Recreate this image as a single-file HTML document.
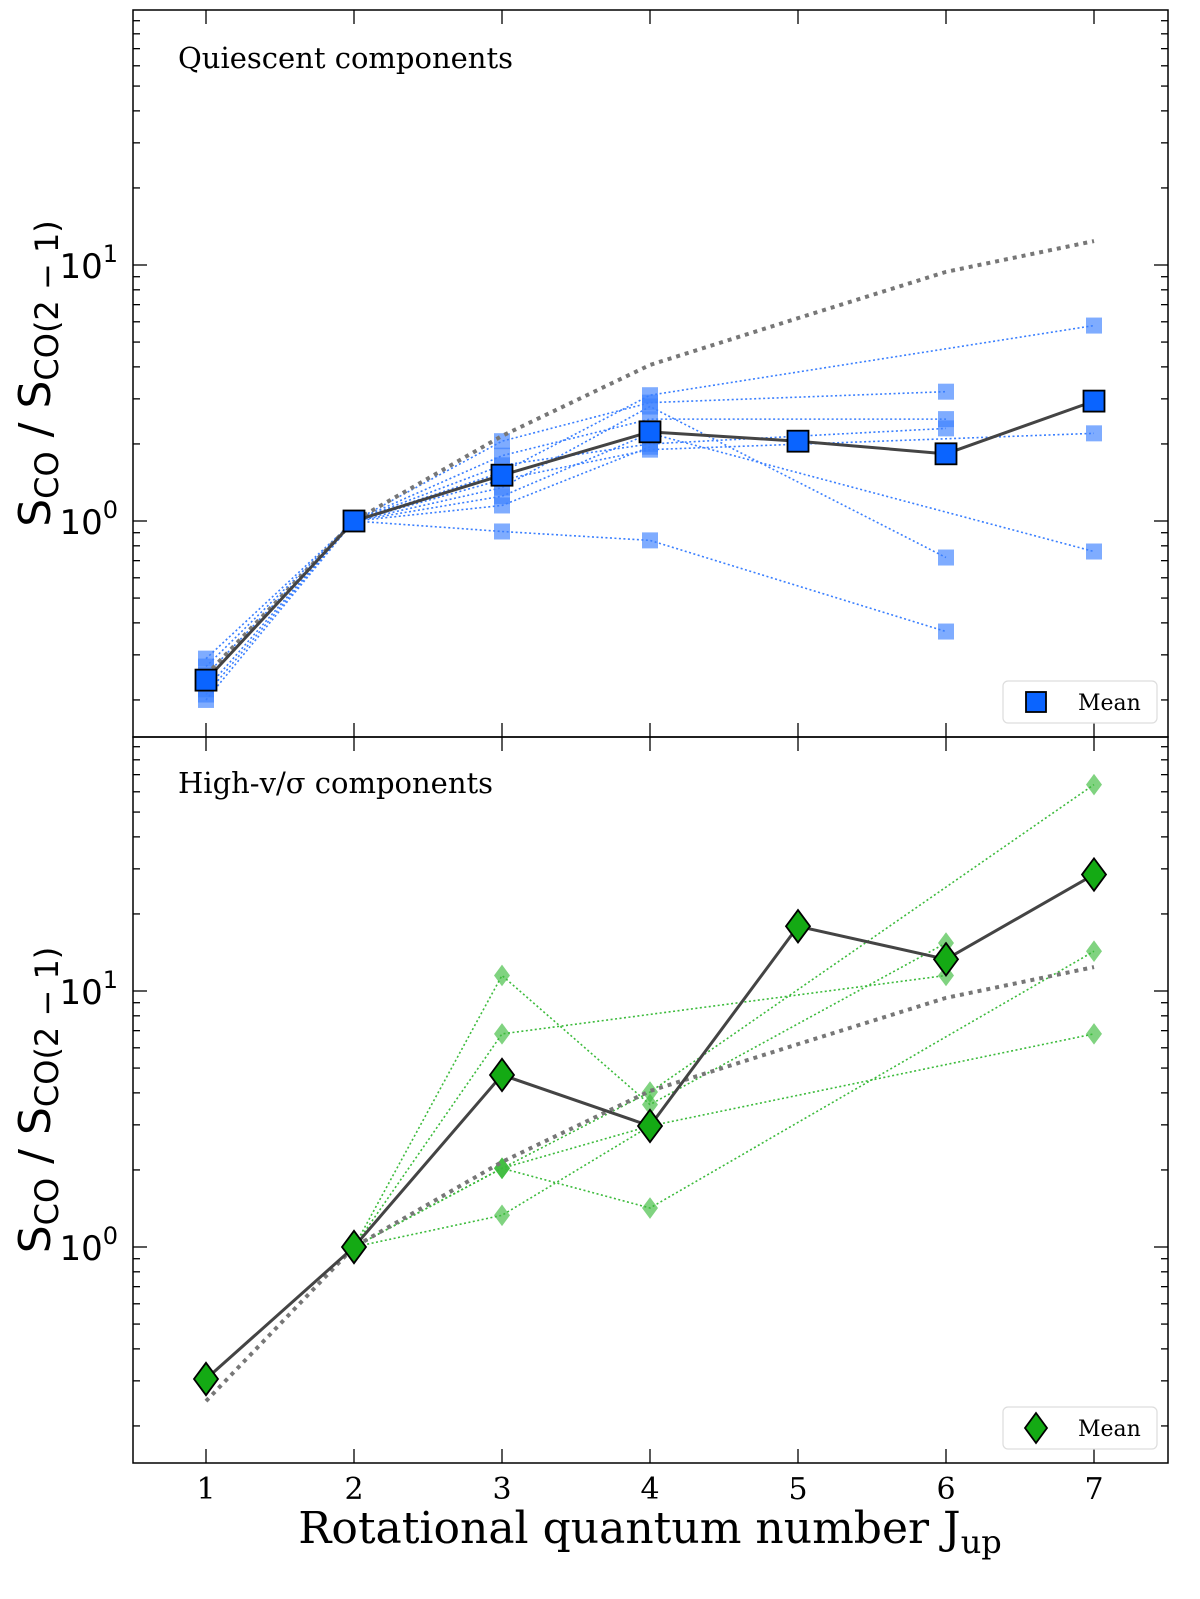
<!DOCTYPE html>
<html><head><meta charset="utf-8"><style>
html,body{margin:0;padding:0;background:#fff;width:1200px;height:1599px;overflow:hidden;}
svg{display:block;overflow:hidden;}
</style></head><body>
<svg id="chart" width="1200" height="1599" viewBox="0 0 1200 1599" xmlns="http://www.w3.org/2000/svg"></svg>
<script>
const J = [1,2,3,4,5,6,7];
const xTickLabels = ["1","2","3","4","5","6","7"];
const yTickLabels = ["10","10"];
const yTickExps = ["0","1"];
const modelLine = [0.25,1,2.15,4.07,6.2,9.4,12.4];
const quiescentMean = [0.239,1,1.51,2.23,2.05,1.83,2.94];
const q1 = [0.27,1,1.55,3.1,null,null,5.8];
const q2 = [0.25,1,2.05,2.9,null,3.2,null];
const q3 = [0.22,1,1.8,2.5,null,2.5,null];
const q4 = [0.29,1,1.65,2.0,null,2.3,null];
const q5 = [0.21,1,1.45,1.9,null,null,2.2];
const q6 = [0.24,1,1.35,2.8,null,0.72,null];
const q7 = [0.2,1,1.25,2.2,null,null,0.76];
const q8 = [null,1,1.15,1.95,null,null,null];
const q9 = [null,1,0.91,0.84,null,0.37,null];
const highMean = [0.305,1,4.7,2.97,17.9,13.3,28.5];
const h1 = [0.305,1,11.5,3.6,null,15.4,null];
const h2 = [null,1,6.8,null,null,11.5,null];
const h3 = [null,1,2.03,1.42,null,null,14.3];
const h4 = [null,1,1.33,2.97,null,null,6.8];
const h5 = [null,1,2.03,4.03,null,null,64];
const h6 = [null,1,2.03,2.97,17.9,null,null];

const NS="http://www.w3.org/2000/svg";
const svg=document.getElementById('chart');
function mk(tag,attrs,parent){const e=document.createElementNS(NS,tag);for(const k in attrs)e.setAttribute(k,attrs[k]);(parent||svg).appendChild(e);return e;}
const L=133,R=1168;
const xs=j=>206+(j-1)*148;
function panel(top,bottom,zeroY){return {top,bottom,y:v=>zeroY-Math.log10(v)*256};}
const P1=panel(10,737,521), P2=panel(737,1463,1247);

function axes(P,name){
  const g=mk('g',{});
  
  
  for(let d=-1;d<=2;d++){for(let m=1;m<=9;m++){const v=m*Math.pow(10,d);const y=P.y(v);
    if(y<P.top+0.5||y>P.bottom-0.5)continue;const len=m===1?14:7;
    mk('line',{x1:L,x2:L+len,y1:y,y2:y,stroke:'#000','stroke-width':1.3},g);
    mk('line',{x1:R,x2:R-len,y1:y,y2:y,stroke:'#000','stroke-width':1.3},g);}}
  J.forEach(j=>{const x=xs(j);
    mk('line',{x1:x,x2:x,y1:P.top,y2:P.top+14,stroke:'#000','stroke-width':1.3},g);
    mk('line',{x1:x,x2:x,y1:P.bottom,y2:P.bottom-14,stroke:'#000','stroke-width':1.3},g);});
  [0,1].forEach(i=>{const y=P.y(Math.pow(10,i));
    const t=mk('text',{x:118,y:y+13,'text-anchor':'end','font-family':'DejaVu Sans, sans-serif','font-size':34},g);
    
    
    t.textContent=yTickLabels[i];
    const s=mk('tspan',{dy:-16,'font-size':24},t);s.textContent=yTickExps[i];});
  const yl=mk('text',{transform:`translate(50,${(P.top+P.bottom)/2}) rotate(-90)`,'text-anchor':'middle','font-family':'DejaVu Sans, sans-serif','font-size':44},g);
  
  
  yl.innerHTML='S<tspan font-size="32" dy="8">CO</tspan><tspan dy="-8"> / S</tspan><tspan font-size="32" dy="8">CO(2 − 1)</tspan>';
}
function clip(P,id){const c=mk('clipPath',{id});mk('rect',{x:L,y:P.top,width:R-L,height:P.bottom-P.top},c);}
clip(P1,'c1');clip(P2,'c2');

function series(P,clipId,arr,opts,name){
  const g=mk('g',{'clip-path':`url(#${clipId})`});
  
  
  const pts=[];arr.forEach((v,i)=>{if(v!=null)pts.push([xs(J[i]),P.y(v)]);});
  if(opts.line){mk('polyline',{points:pts.map(p=>p.join(',')).join(' '),fill:'none',stroke:opts.line,'stroke-width':opts.lw,'stroke-dasharray':opts.dash||'none','stroke-opacity':opts.lo||1},g);}
  if(opts.marker){pts.forEach(([x,y])=>{const s=opts.size;let m;
    if(opts.marker==='s')m=mk('rect',{x:x-s,y:y-s,width:2*s,height:2*s,fill:opts.fill,'fill-opacity':opts.fo||1,stroke:opts.edge||'none','stroke-width':opts.ew||0},g);
    else m=mk('polygon',{points:`${x},${y-s*1.35} ${x+s},${y} ${x},${y+s*1.35} ${x-s},${y}`,fill:opts.fill,'fill-opacity':opts.fo||1,stroke:opts.edge||'none','stroke-width':opts.ew||0},g);
    
    });}
}
const blue='#0a64ff', green='#14aa14';
[q1,q2,q3,q4,q5,q6,q7,q8,q9].forEach((s,i)=>series(P1,'c1',s,{line:'#3a7fff',lw:1.6,dash:'2,2.5',marker:'s',size:8,fill:'#3a7fff',fo:0.65},'quiescent-component-'+(i+1)));
series(P1,'c1',modelLine,{line:'#777',lw:4,dash:'4,5'},'model-line-top');
series(P1,'c1',quiescentMean,{line:'#444',lw:3},'quiescent-mean-line');
series(P1,'c1',quiescentMean,{marker:'s',size:10.5,fill:blue,edge:'#000',ew:1.8},'quiescent-mean');
[h1,h2,h3,h4,h5,h6].forEach((s,i)=>series(P2,'c2',s,{line:'#3cbb3c',lw:1.6,dash:'2,2.5',marker:'d',size:8,fill:'#3cbb3c',fo:0.65},'high-component-'+(i+1)));
series(P2,'c2',modelLine,{line:'#777',lw:4,dash:'4,5'},'model-line-bottom');
series(P2,'c2',highMean,{line:'#444',lw:3},'high-mean-line');
series(P2,'c2',highMean,{marker:'d',size:12,fill:green,edge:'#000',ew:1.8},'high-mean');

axes(P1,'top-panel');axes(P2,'bottom-panel');
const fr1=mk('rect',{x:L,y:10,width:R-L,height:727,fill:'none',stroke:'#000','stroke-width':1.5});

const fr2=mk('rect',{x:L,y:737,width:R-L,height:726,fill:'none',stroke:'#000','stroke-width':1.5});


function title(y,txt,name){const t=mk('text',{x:178,y,'font-family':'DejaVu Serif, serif','font-size':29});t.textContent=txt;}
title(68,'Quiescent components','top-panel-title');
title(793,'High-v/σ components','bottom-panel-title');

function legend(y,marker,fill,name){
  const g=mk('g',{});
  mk('rect',{x:1003,y,width:154,height:42,rx:5,fill:'#fff',stroke:'#ddd','stroke-width':1.2},g);
  const cx=1036,cy=y+21;
  if(marker==='s')mk('rect',{x:cx-10,y:cy-10,width:20,height:20,fill,stroke:'#000','stroke-width':1.8},g);
  else mk('polygon',{points:`${cx},${cy-15} ${cx+11},${cy} ${cx},${cy+15} ${cx-11},${cy}`,fill,stroke:'#000','stroke-width':1.8},g);
  const t=mk('text',{x:1078,y:cy+8,'font-family':'DejaVu Serif, serif','font-size':22},g);t.textContent='Mean';
}
legend(681,'s',blue,'top-legend');legend(1407,'d',green,'bottom-legend');

J.forEach((j,i)=>{const t=mk('text',{x:xs(j),y:1499,'text-anchor':'middle','font-family':'DejaVu Serif, serif','font-size':30});
  t.textContent=xTickLabels[i];});
const xl=mk('text',{x:650,y:1543,'text-anchor':'middle','font-family':'DejaVu Serif, serif','font-size':44});

xl.innerHTML='Rotational quantum number J<tspan font-size="32" dy="10">up</tspan>';
</script>
</body></html>
